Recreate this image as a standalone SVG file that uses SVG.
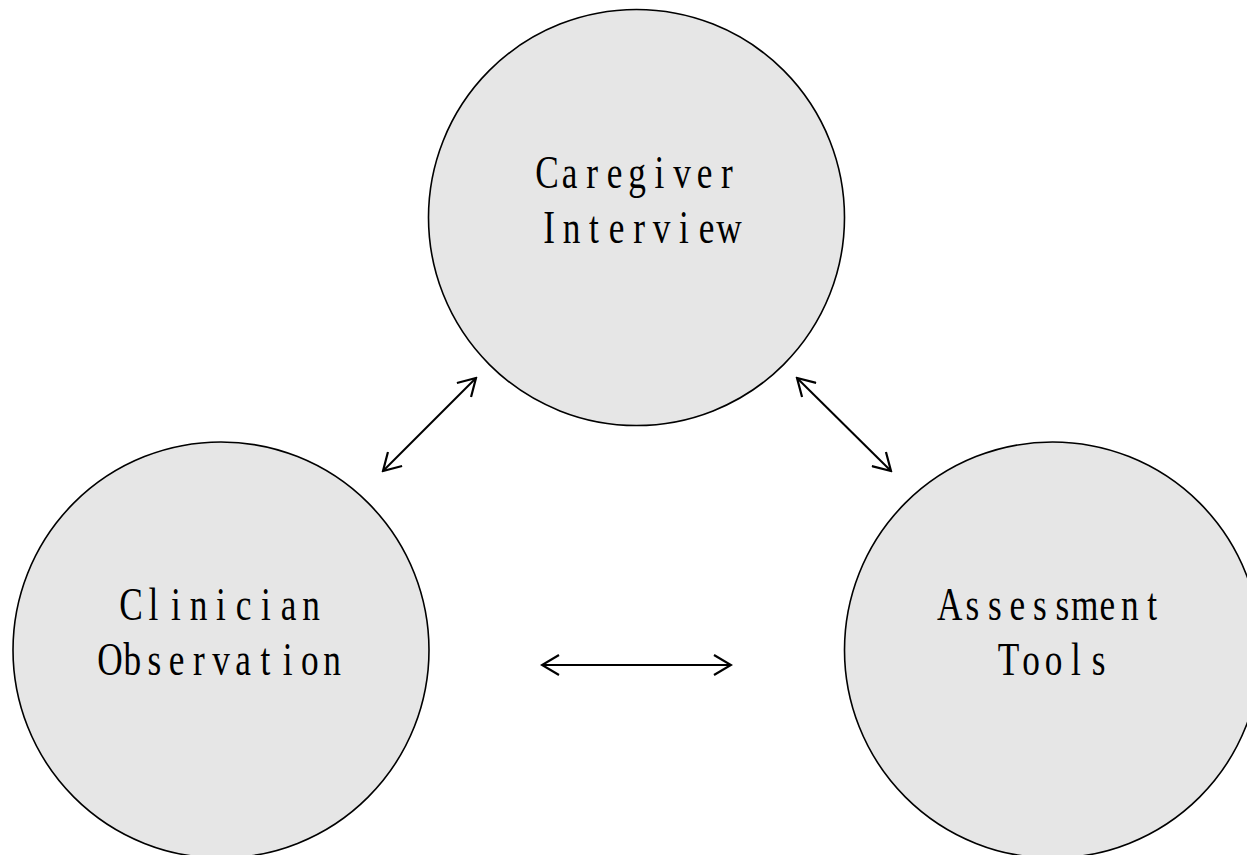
<svg xmlns="http://www.w3.org/2000/svg" width="1247" height="855" viewBox="0 0 1247 855">
<style>
.node circle{fill:#e6e6e6;stroke:#000;stroke-width:1.6}
.node text{font-family:"Liberation Serif","DejaVu Serif",serif;font-size:47px;fill:#000;text-anchor:middle}
.conn line{stroke:#000;stroke-width:2;fill:none}
</style>
<defs>
<marker id="arr" viewBox="0 0 20 22" refX="18" refY="11" markerWidth="20" markerHeight="22" markerUnits="userSpaceOnUse" orient="auto-start-reverse">
<path d="M1,1 L18,11 L1,21" fill="none" stroke="#000" stroke-width="2.2"/>
</marker>
</defs>
<rect width="1247" height="855" fill="#fff"/>
<g id="caregiver" class="node">
<circle cx="636.5" cy="217.5" r="208"/>
<text transform="matrix(0.75 0 0 1 637 0)" x="-120 -90 -60 -30 0 30 60 90 120" y="188">Caregiver</text>
<text transform="matrix(0.75 0 0 1 639 0)" x="-120 -90 -60 -30 0 30 60 90 120" y="243">Interview</text>
</g>
<g id="clinician" class="node">
<circle cx="221" cy="650" r="208"/>
<text transform="matrix(0.75 0 0 1 221 0)" x="-120 -90 -60 -30 0 30 60 90 120" y="620">Clinician</text>
<text transform="matrix(0.75 0 0 1 221 0)" x="-148 -118.4 -88.8 -59.2 -29.6 0 29.6 59.2 88.8 118.4 148" y="675">Observation</text>
</g>
<g id="assessment" class="node">
<circle cx="1052.5" cy="650" r="208"/>
<text transform="matrix(0.75 0 0 1 1051 0)" x="-135 -105 -75 -45 -15 15 45 75 105 135" y="620">Assessment</text>
<text transform="matrix(0.75 0 0 1 1053.5 0)" x="-60 -30 0 30 60" y="675">Tools</text>
</g>
<g id="connectors" class="conn">
<line x1="383" y1="471" x2="476" y2="378" marker-start="url(#arr)" marker-end="url(#arr)"/>
<line x1="797" y1="378" x2="891" y2="471" marker-start="url(#arr)" marker-end="url(#arr)"/>
<line x1="542" y1="665" x2="731" y2="665" marker-start="url(#arr)" marker-end="url(#arr)"/>
</g>
</svg>
